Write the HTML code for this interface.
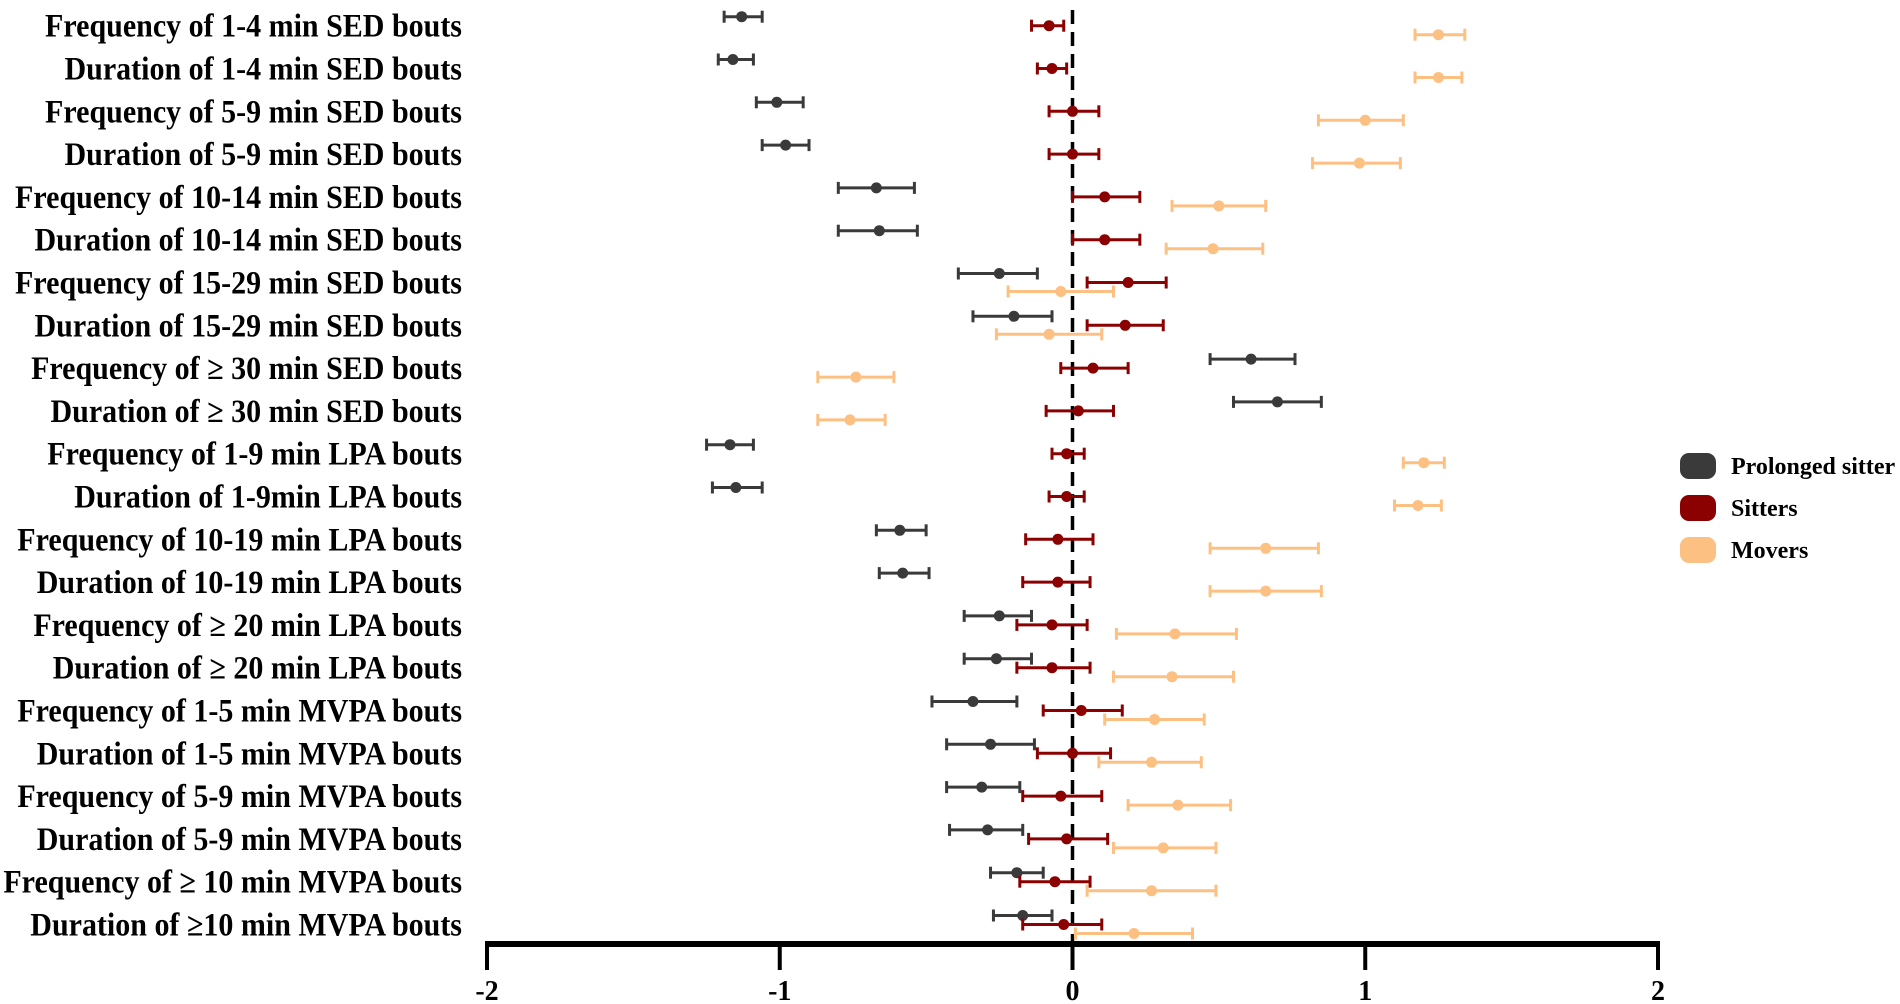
<!DOCTYPE html>
<html><head><meta charset="utf-8"><style>
html,body{margin:0;padding:0;background:#fff;}
svg{display:block;}
text{font-family:"Liberation Serif",serif;font-weight:bold;fill:#000;}
</style></head><body>
<svg id="chart" width="1900" height="1004" viewBox="0 0 1900 1004" xmlns="http://www.w3.org/2000/svg"></svg>
<script>
const categories = ["Frequency of 1-4 min SED bouts","Duration of 1-4 min SED bouts","Frequency of 5-9 min SED bouts","Duration of 5-9 min SED bouts","Frequency of 10-14 min SED bouts","Duration of 10-14 min SED bouts","Frequency of 15-29 min SED bouts","Duration of 15-29 min SED bouts","Frequency of  \u2265 30 min SED bouts","Duration of \u2265 30 min SED bouts","Frequency of 1-9 min LPA bouts","Duration of 1-9min LPA bouts","Frequency of 10-19 min LPA bouts","Duration of 10-19 min LPA bouts","Frequency of  \u2265 20 min LPA bouts","Duration of \u2265 20 min LPA bouts","Frequency of 1-5 min MVPA bouts","Duration of 1-5 min MVPA bouts","Frequency of 5-9 min MVPA bouts","Duration of 5-9 min MVPA bouts","Frequency of \u2265 10 min MVPA bouts","Duration of \u226510 min MVPA bouts"];
const prolongedMean = [-1.13,-1.16,-1.01,-0.98,-0.67,-0.66,-0.25,-0.20,0.61,0.70,-1.17,-1.15,-0.59,-0.58,-0.25,-0.26,-0.34,-0.28,-0.31,-0.29,-0.19,-0.17];
const prolongedLo = [-1.19,-1.21,-1.08,-1.06,-0.80,-0.80,-0.39,-0.34,0.47,0.55,-1.25,-1.23,-0.67,-0.66,-0.37,-0.37,-0.48,-0.43,-0.43,-0.42,-0.28,-0.27];
const prolongedHi = [-1.06,-1.09,-0.92,-0.90,-0.54,-0.53,-0.12,-0.07,0.76,0.85,-1.09,-1.06,-0.50,-0.49,-0.14,-0.14,-0.19,-0.13,-0.18,-0.17,-0.10,-0.07];
const sittersMean = [-0.08,-0.07,0.00,0.00,0.11,0.11,0.19,0.18,0.07,0.02,-0.02,-0.02,-0.05,-0.05,-0.07,-0.07,0.03,0.00,-0.04,-0.02,-0.06,-0.03];
const sittersLo = [-0.14,-0.12,-0.08,-0.08,0.00,0.00,0.05,0.05,-0.04,-0.09,-0.07,-0.08,-0.16,-0.17,-0.19,-0.19,-0.10,-0.12,-0.17,-0.15,-0.18,-0.17];
const sittersHi = [-0.03,-0.02,0.09,0.09,0.23,0.23,0.32,0.31,0.19,0.14,0.04,0.04,0.07,0.06,0.05,0.06,0.17,0.13,0.10,0.12,0.06,0.10];
const moversMean = [1.25,1.25,1.00,0.98,0.50,0.48,-0.04,-0.08,-0.74,-0.76,1.20,1.18,0.66,0.66,0.35,0.34,0.28,0.27,0.36,0.31,0.27,0.21];
const moversLo = [1.17,1.17,0.84,0.82,0.34,0.32,-0.22,-0.26,-0.87,-0.87,1.13,1.10,0.47,0.47,0.15,0.14,0.11,0.09,0.19,0.14,0.05,0.01];
const moversHi = [1.34,1.33,1.13,1.12,0.66,0.65,0.14,0.10,-0.61,-0.64,1.27,1.26,0.84,0.85,0.56,0.55,0.45,0.44,0.54,0.49,0.49,0.41];
const xTicks = [-2,-1,0,1,2];
const seriesNames = ["Prolonged sitter","Sitters","Movers"];

const NS="http://www.w3.org/2000/svg";
const svg=document.getElementById('chart');
const X0=487,X1=1658;
const xs=v=>X0+(v+2)/4*(X1-X0);
const ys=i=>26.7+42.8*i;
function el(t,a,p){const e=document.createElementNS(NS,t);for(const k in a)e.setAttribute(k,a[k]);(p||svg).appendChild(e);return e;}

categories.forEach((c,i)=>{
  const y=ys(i)+10;
  const t=el('text',{x:462,y:0,'text-anchor':'end','font-size':30,transform:'translate(0,'+y+') scale(1,1.08)'});
  t.setAttribute('x',462);
  
  
  t.textContent=c;
});
const zl=el('line',{x1:xs(0),x2:xs(0),y1:10,y2:944,stroke:'#000','stroke-width':3.5,'stroke-dasharray':'14,8'});



const series=[
 {m:prolongedMean,lo:prolongedLo,hi:prolongedHi,c:'#3a3a3a',off:-10,n:'prolonged'},
 {m:sittersMean,lo:sittersLo,hi:sittersHi,c:'#8b0000',off:-1,n:'sitters'},
 {m:moversMean,lo:moversLo,hi:moversHi,c:'#fdc083',off:8,n:'movers'}];
series.forEach(s=>{
  s.m.forEach((v,i)=>{
    const y=ys(i)+s.off;
    const g=el('g',{});
    
    
    el('line',{x1:xs(s.lo[i]),x2:xs(s.hi[i]),y1:y,y2:y,stroke:s.c,'stroke-width':3},g);
    el('line',{x1:xs(s.lo[i]),x2:xs(s.lo[i]),y1:y-6,y2:y+6,stroke:s.c,'stroke-width':3},g);
    el('line',{x1:xs(s.hi[i]),x2:xs(s.hi[i]),y1:y-6,y2:y+6,stroke:s.c,'stroke-width':3},g);
    el('circle',{cx:xs(v),cy:y,r:5.5,fill:s.c},g);
  });
});
const ax=el('line',{x1:X0-2,x2:X1+2,y1:944,y2:944,stroke:'#000','stroke-width':6});


xTicks.forEach(v=>{
  const tk=el('line',{x1:xs(v),x2:xs(v),y1:944,y2:970,stroke:'#000','stroke-width':4});
  
  
  const t=el('text',{x:xs(v),y:1000,'text-anchor':'middle','font-size':28});
  
  
  t.textContent=String(v);
});
seriesNames.forEach((n,i)=>{
  const y=466+i*42;
  const r=el('rect',{x:1680,y:y-13,width:36,height:26,rx:9,fill:series[i].c});
  
  
  const t=el('text',{x:1731,y:y+8,'font-size':24});
  
  
  t.textContent=n;
});
</script>
</body></html>
